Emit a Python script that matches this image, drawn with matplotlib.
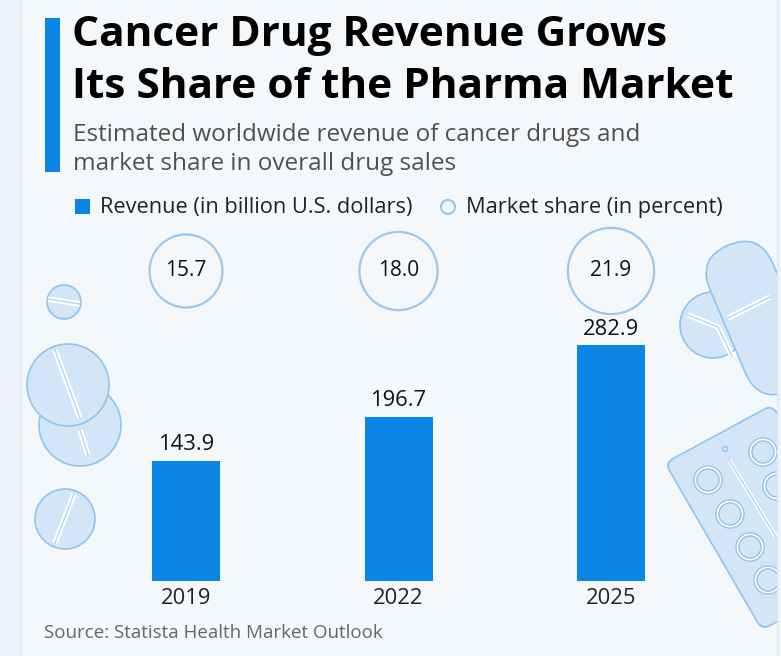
import matplotlib
matplotlib.use("Agg")
import matplotlib.pyplot as plt
import matplotlib.patches as mpatches
import matplotlib.transforms as mtrans
import numpy as np

# chart data
years = ["2019", "2022", "2025"]
revenue = [143.9, 196.7, 282.9]          # billion U.S. dollars
market_share = [15.7, 18.0, 21.9]        # percent

title_lines = ["Cancer Drug Revenue Grows", "Its Share of the Pharma Market"]
subtitle_lines = ["Estimated worldwide revenue of cancer drugs and",
                  "market share in overall drug sales"]
legend_labels = ["Revenue (in billion U.S. dollars)", "Market share (in percent)"]
source = "Source: Statista Health Market Outlook"

BLUE = "#0a85e6"
CARD = "#f5f8fb"
OUTER = "#eef3f9"
RING = "#9cc8ee"
PILL_FILL = "#d2e6f8"
PILL_EDGE = "#92c3ec"

plt.rcParams["font.family"] = ["Open Sans", "DejaVu Sans"]

W, H = 781, 656
fig = plt.figure(figsize=(W / 100, H / 100), dpi=100)
fig.patch.set_facecolor(OUTER)

# full-figure overlay in pixel coordinates (y down)
bg = fig.add_axes([0, 0, 1, 1])
bg.set_xlim(0, W)
bg.set_ylim(H, 0)
bg.axis("off")
bg.set_zorder(0)

card = mpatches.Rectangle((21, -5), 756, H + 10, facecolor=CARD,
                          edgecolor="#e3e8ee", lw=1, zorder=0)
bg.add_patch(card)

# left accent bar
bg.add_patch(mpatches.Rectangle((45, 18), 15, 154, facecolor=BLUE, lw=0))

for yy, line in zip([46, 98], title_lines):
    bg.text(72, yy, line, fontsize=30.5, fontweight="bold", color="#000000",
            va="baseline", ha="left")
for yy, line in zip([141, 170], subtitle_lines):
    bg.text(73, yy, line, fontsize=17.5, color="#505050", va="baseline",
            ha="left")

# legend
bg.add_patch(mpatches.Rectangle((75, 199), 15, 15, facecolor=BLUE, lw=0))
bg.text(100, 207, legend_labels[0], fontsize=15.7, color="#222222",
        va="center", ha="left")
bg.add_patch(mpatches.Circle((448, 207), 7, facecolor="none",
                             edgecolor=RING, lw=1.6))
bg.text(466, 207, legend_labels[1], fontsize=15.7, color="#222222",
        va="center", ha="left")

bg.text(44, 633, source, fontsize=13.5, color="#666666", va="center", ha="left")

# decorative pills (background illustration), drawn in order
z = [2]


def nextz():
    z[0] += 0.1
    return z[0]


def groove(pts, width=4):
    xs, ys = zip(*pts)
    zz = nextz()
    a, = bg.plot(xs, ys, color="white", lw=width, solid_capstyle="butt", zorder=zz)
    b, = bg.plot(xs, ys, color=PILL_EDGE, lw=1, alpha=0.7, zorder=zz + 0.01)
    a.set_clip_path(card)
    b.set_clip_path(card)


def pill(cx, cy, r):
    c = mpatches.Circle((cx, cy), r, facecolor=PILL_FILL, edgecolor=PILL_EDGE,
                        lw=1.2, zorder=nextz())
    bg.add_patch(c)
    c.set_clip_path(card)


pill(64, 302, 17)
groove([(48, 299), (80, 304)])
pill(80, 425, 41)
groove([(80, 430), (88, 455)])
pill(68, 385, 41)
groove([(55, 350), (80, 418)])
pill(65, 519, 30)
groove([(74, 494), (55, 543)])

# half tablet behind capsule
pill(713, 325, 33)
groove([(688, 315), (718, 327), (732, 356)])

# capsule
cap = mpatches.FancyBboxPatch((-79, -34), 158, 68,
                              boxstyle="round,pad=0,rounding_size=34",
                              facecolor=PILL_FILL, edgecolor=PILL_EDGE, lw=1.2,
                              zorder=nextz())
cap.set_transform(mtrans.Affine2D().rotate_deg(67).translate(759, 318)
                  + bg.transData)
bg.add_patch(cap)
cap.set_clip_path(card)
groove([(728, 318), (770, 297)])

# blister pack: corner at (665, 463), edges towards (772, 405) and (762, 630)
u = np.array([107, -58]) / np.hypot(107, -58)
v = np.array([97, 167]) / np.hypot(97, 167)
blister = mpatches.FancyBboxPatch((0, 0), 122, 193,
                                  boxstyle="round,pad=0,rounding_size=9",
                                  facecolor=PILL_FILL, edgecolor=PILL_EDGE,
                                  lw=1.2, zorder=nextz())
mat = np.array([[u[0], v[0], 665], [u[1], v[1], 463], [0, 0, 1]])
blister.set_transform(mtrans.Affine2D(mat) + bg.transData)
bg.add_patch(blister)
blister.set_clip_path(card)
for (bx, by) in [(708, 480), (730, 514), (750, 547), (768, 580),
                 (763, 452), (777, 486)]:
    zz = nextz()
    for rr, col, lw in [(14, PILL_EDGE, 1.1), (12.5, "white", 1.2),
                        (11, PILL_EDGE, 1.0)]:
        p = mpatches.Circle((bx, by), rr, facecolor="none", edgecolor=col,
                            lw=lw, zorder=zz)
        bg.add_patch(p)
        p.set_clip_path(card)
groove([(729, 460), (776, 537)], width=3)
dot = mpatches.Circle((725, 449), 2.5, facecolor="none", edgecolor=PILL_EDGE,
                      lw=1, zorder=nextz())
bg.add_patch(dot)

# bar chart axes: baseline at y=581 px, 0.834 px per billion
base_px, top_px = 581, 231
ax = fig.add_axes([0, 1 - base_px / H, 1, (base_px - top_px) / H])
ax.set_zorder(1)
ax.patch.set_alpha(0)
scale = 0.834
ax.set_ylim(0, (base_px - top_px) / scale)
x = np.arange(len(years))
# category centres at 186, 398.5, 611 px
ax.set_xlim(-186 / 212.5, (W - 186) / 212.5)
ax.bar(x, revenue, width=68 / 212.5, color=BLUE, zorder=3)
for xi, v in zip(x, revenue):
    ax.annotate(f"{v:.1f}", (xi, v), xytext=(0, 4), textcoords="offset points",
                ha="center", va="bottom", fontsize=15.8, color="#111111")
    ax.annotate(years[xi], (xi, 0), xytext=(0, -5), textcoords="offset points",
                ha="center", va="top", fontsize=15.8, color="#222222")

# market share circles, area proportional to share
ring_y = (base_px - 271) / scale
k = 36.5 / np.sqrt(market_share[0])
sizes = [(2 * k * np.sqrt(s) * 0.72) ** 2 for s in market_share]
ax.scatter(x, [ring_y] * len(x), s=sizes, facecolor=CARD, edgecolor=RING,
           linewidth=1.6, zorder=3, clip_on=False)
for xi, s in zip(x, market_share):
    ax.text(xi, ring_y, f"{s:.1f}", ha="center", va="center", fontsize=15,
            color="#111111", zorder=4)
ax.axis("off")

fig.savefig("out.png", dpi=100, facecolor=fig.get_facecolor())
